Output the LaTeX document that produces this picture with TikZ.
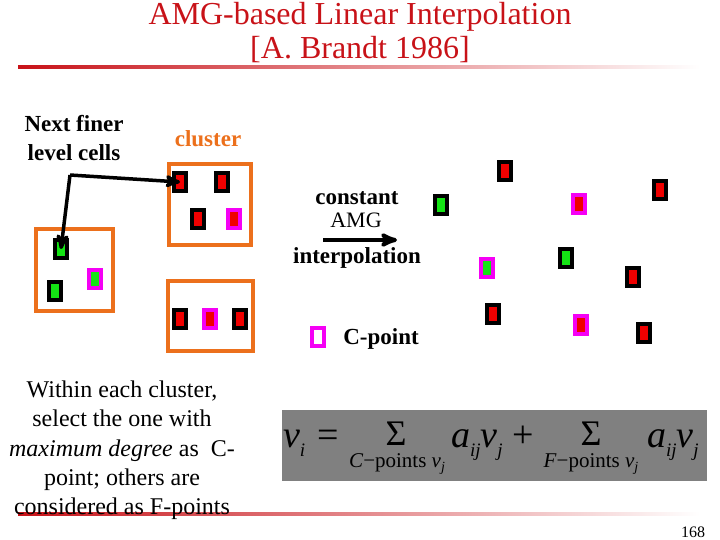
\documentclass[tikz,border=0pt]{standalone}
\usepackage{fontspec}
\setmainfont{Liberation Serif}
\usepackage{xcolor}
\usetikzlibrary{arrows}
\usetikzlibrary{shapes}

\definecolor{ttlred}{RGB}{200,18,24}
\definecolor{boxorange}{RGB}{236,112,28}
\definecolor{cpink}{RGB}{245,0,245}
\definecolor{cellred}{RGB}{240,0,0}
\definecolor{cellgreen}{RGB}{20,228,20}
\definecolor{eqgray}{RGB}{128,128,128}

\begin{document}
\begin{tikzpicture}
[
x=1pt, y=-1pt,
every node/.style={
	inner sep=0pt,
	outer sep=0pt},
cell/.style={
	rectangle,
	line width=4pt,
	minimum width=12pt,
	minimum height=18pt},
redF/.style={cell, draw=black, fill=cellred},
greenF/.style={cell, draw=black, fill=cellgreen},
redC/.style={cell, draw=cpink, fill=cellred},
greenC/.style={cell, draw=cpink, fill=cellgreen},
legC/.style={cell, draw=cpink, fill=white},
clus/.style={
	rectangle,
	draw=boxorange,
	line width=4pt},
lbl/.style={
	font=\bfseries\fontsize{23}{29}\selectfont},
regArr/.style={
	->,
	>=stealth',
	line width=3.5pt}
]
\useasboundingbox (0,0) rectangle (720,540);

%title
\node[anchor=base, text=ttlred, font=\fontsize{32}{38}\selectfont] (t1) at (360,25) {AMG-based Linear Interpolation};
\node[anchor=base, text=ttlred, font=\fontsize{32}{38}\selectfont] (t2) at (360,59) {[A. Brandt 1986]};
\shade[left color=ttlred, middle color=ttlred!55!white, right color=white] (18,65.5) rectangle (700,68.5);
\shade[left color=ttlred, middle color=ttlred!55!white, right color=white] (18,512.5) rectangle (700,515.5);

%clusters
\node[clus, minimum width=82pt, minimum height=81pt] (ct) at (210,204.5) {};
\node[clus, minimum width=77pt, minimum height=82pt] (cl) at (74.5,270) {};
\node[clus, minimum width=85pt, minimum height=70pt] (cb) at (210.5,316) {};
\node[lbl, anchor=base, text=boxorange] (cn) at (208,147) {cluster};

%top cluster
\node[redF] (ta) at (180,182) {};
\node[redF] (tb) at (222,182) {};
\node[redF] (tc) at (198,219) {};
\node[redC] (td) at (234,219) {};

%left cluster
\node[greenF] (la) at (61,249) {};
\node[greenC] (lb) at (95,279) {};
\node[greenF] (lc) at (55,291) {};

%bottom cluster
\node[redF] (ba) at (180,319) {};
\node[redC] (bb) at (210,319) {};
\node[redF] (bc) at (240,319) {};

%coarse level
\node[redF] (r1) at (505,171) {};
\node[greenF] (r2) at (441,205) {};
\node[redC] (r3) at (579,204) {};
\node[redF] (r4) at (660,190) {};
\node[greenC] (r5) at (487,268) {};
\node[greenF] (r6) at (566,258) {};
\node[redF] (r7) at (633,277) {};
\node[redF] (r8) at (493,314) {};
\node[redC] (r9) at (581,325) {};
\node[redF] (r10) at (644,333) {};

%legend
\node[legC] (lg) at (318,337) {};
\node[lbl, anchor=base] (lgt) at (381,344) {C-point};

%finer cells label
\node[lbl, align=center, anchor=north] (nf) at (74,115) {Next finer\\level cells};
\coordinate (knee) at (70,175);
\draw [regArr] (knee) -- (ta.center);
\draw [regArr] (knee) -- (la.center);

%interpolation arrow
\node[lbl, anchor=base, text depth=0pt] (ia) at (357,205) {constant};
\node[anchor=base, text height=15pt, text depth=0pt, font=\fontsize{22}{28}\selectfont] (ib) at (356,228) {AMG};
\node[lbl, anchor=base] (ic) at (357,263) {interpolation};
\coordinate (aw) at (323,240);
\coordinate (ae) at (397,240);
\draw [regArr, line width=4pt] (aw) -- (ae);

%explanation
\node[align=center, anchor=north, font=\fontsize{24}{29.2}\selectfont] (ex) at (122,381)
{Within each cluster,\\select the one with\\\textit{maximum degree} as\ \ C-\\point; others are\\considered as F-points};

%formula
\def\big{\fontsize{38}{38}\selectfont}
\def\sml{\fontsize{21}{21}\selectfont}
\def\sig{\fontsize{36}{36}\selectfont}
\def\idx#1{\raisebox{-0.25em}{\fontsize{19}{19}\selectfont\itshape #1}}
\def\lidx#1{\raisebox{-0.22em}{\fontsize{14}{14}\selectfont\itshape #1}}
\node[fill=eqgray, minimum width=425pt, minimum height=71pt] (eq) at (494.5,445.5) {};
\node[anchor=base west, font=\big] (vi) at (283,447) {\textit{v}\idx{i}};
\node[anchor=base, font=\big] (eqs) at (328,447) {=};
\node[anchor=base, font=\sig] (s1) at (396,445) {Σ};
\node[anchor=base, font=\sml] (s1l) at (397,467) {\textit{C}−points \textit{v}\lidx{j}};
\node[anchor=base west, font=\big] (av1) at (451,447) {\textit{a}\idx{ij}\textit{v}\idx{j}};
\node[anchor=base, font=\big] (pl) at (523,447) {+};
\node[anchor=base, font=\sig] (s2) at (591,445) {Σ};
\node[anchor=base, font=\sml] (s2l) at (591,467) {\textit{F}−points \textit{v}\lidx{j}};
\node[anchor=base west, font=\big] (av2) at (647,447) {\textit{a}\idx{ij}\textit{v}\idx{j}};

%page number
\node[anchor=base, font=\fontsize{16}{16}\selectfont] (pg) at (693,537) {168};

\end{tikzpicture}
\end{document}
